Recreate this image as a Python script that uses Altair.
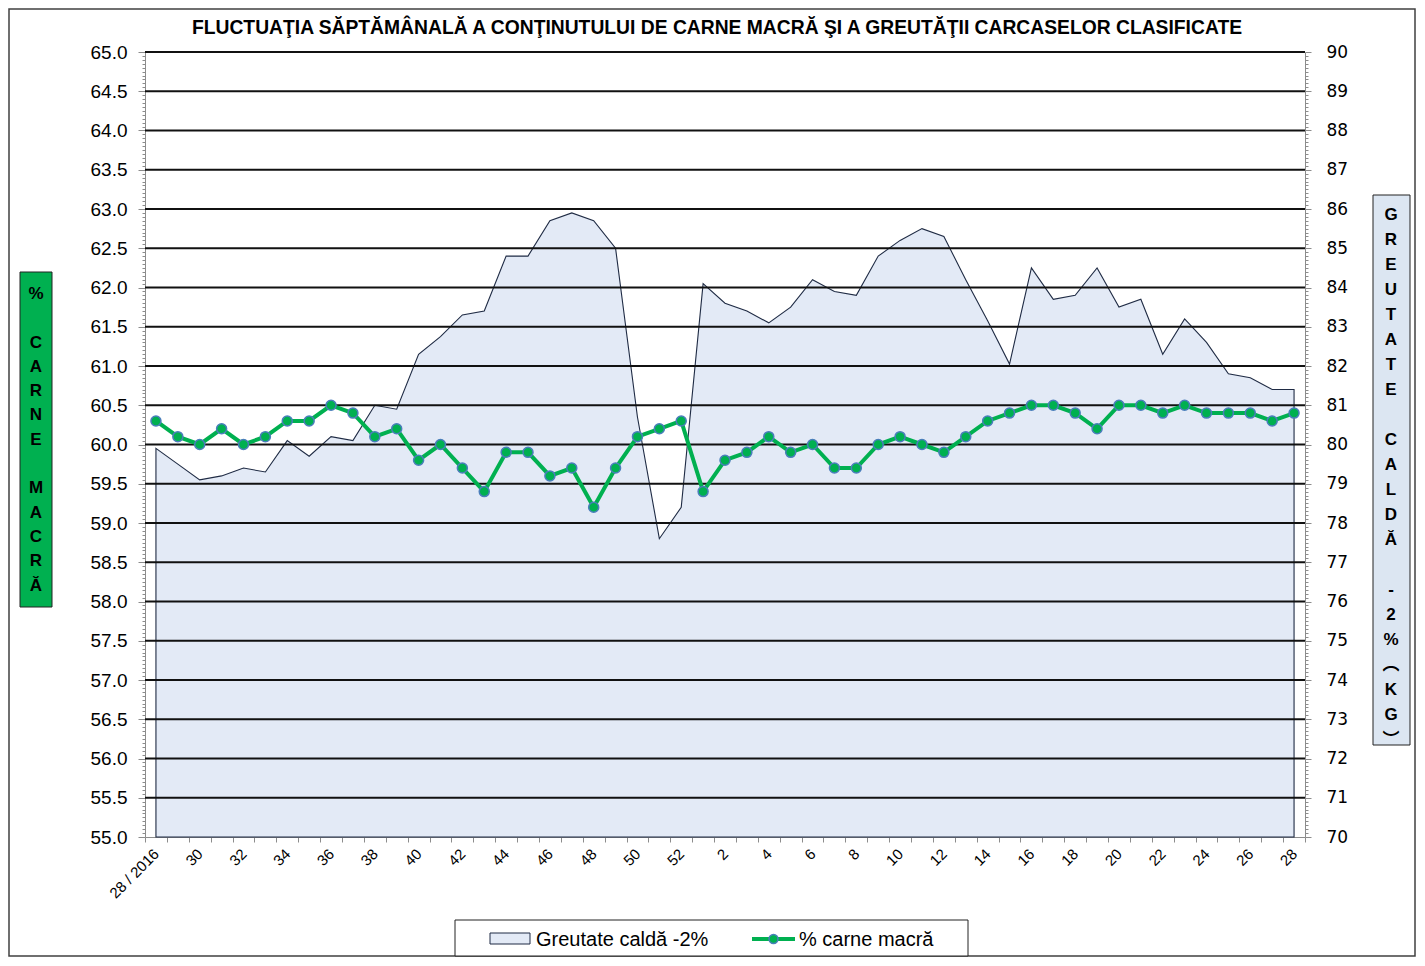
import json
import altair as alt
import pandas as pd

# ---------------- data ----------------
week_labels = ["28 / 2016"] + [str(w) for w in range(29, 53)] + [str(w) for w in range(1, 29)]

lean_meat = [60.3, 60.1, 60.0, 60.2, 60.0, 60.1, 60.3, 60.3, 60.5, 60.4,
             60.1, 60.2, 59.8, 60.0, 59.7, 59.4, 59.9, 59.9, 59.6, 59.7,
             59.2, 59.7, 60.1, 60.2, 60.3, 59.4, 59.8, 59.9, 60.1, 59.9,
             60.0, 59.7, 59.7, 60.0, 60.1, 60.0, 59.9, 60.1, 60.3, 60.4,
             60.5, 60.5, 60.4, 60.2, 60.5, 60.5, 60.4, 60.5, 60.4, 60.4,
             60.4, 60.3, 60.4]

carcass_weight = [79.9, 79.5, 79.1, 79.2, 79.4, 79.3, 80.1, 79.7, 80.2, 80.1,
                  81.0, 80.9, 82.3, 82.75, 83.3, 83.4, 84.8, 84.8, 85.7, 85.9,
                  85.7, 85.0, 80.7, 77.6, 78.4, 84.1, 83.6, 83.4, 83.1, 83.5,
                  84.2, 83.9, 83.8, 84.8, 85.2, 85.5, 85.3, 84.2, 83.15, 82.05,
                  84.5, 83.7, 83.8, 84.5, 83.5, 83.7, 82.3, 83.2, 82.6, 81.8,
                  81.7, 81.4, 81.4]

series_names = ["Greutate caldă -2%", "% carne macră"]
title_text = "FLUCTUAŢIA SĂPTĂMÂNALĂ  A CONŢINUTULUI DE CARNE MACRĂ ŞI A GREUTĂŢII CARCASELOR CLASIFICATE"
# stacked axis titles: (line index, letters) per word
left_title_words = [(0, "%"), (2, "CARNE"), (8, "MACRĂ")]
right_title_words = [(0, "GREUTATE"), (9, "CALDĂ"), (15, "-2%"), (18, "︵KG︶")]

left_domain = [55, 65]
right_domain = [70, 90]

df = pd.DataFrame({"idx": list(range(len(week_labels))), "week": week_labels,
                   "lean": lean_meat, "weight": carcass_weight})
grid_df = pd.DataFrame({"g": [55.5 + 0.5 * k for k in range(20)]})
one = pd.DataFrame({"a": [0]})

# ---------------- layout ----------------
W, H = 1160, 785
PAD = {"left": 137, "top": 44, "right": 111, "bottom": 120}
FONT = "Liberation Sans, Arial, sans-serif"
GRAY = "#8c8c8c"
GREEN = "#00B050"
AREA_FILL = "#E3EAF6"
AREA_LINE = "#1F2B44"
LEG_TOP = 868

x_vals = [k / 2 - 0.5 for k in range(2 * len(week_labels) + 1)]
x_label_expr = f"(datum.value % 2 === 0) ? {json.dumps(week_labels, ensure_ascii=False)}[datum.value] : ''"

x_enc = alt.X(
    "idx:Q",
    scale=alt.Scale(domain=[-0.5, len(week_labels) - 0.5], nice=False, zero=False),
    axis=alt.Axis(
        values=x_vals, labelExpr=x_label_expr, labelAngle=-45, labelAlign="right",
        labelBaseline="middle", labelFontSize=15, labelFont=FONT, labelColor="black",
        labelOverlap=False, labelFlush=False, labelPadding=9, tickSize=5,
        tickColor=GRAY, tickOpacity={"condition": {"test": "datum.value % 1 !== 0", "value": 1}, "value": 0},
        domainColor=GRAY, grid=False, title=None,
    ),
)

left_vals = [round(55 + 0.05 * k, 2) for k in range(201)]
left_axis = alt.Axis(
    orient="left", values=left_vals,
    labelExpr="round(datum.value*20) % 10 === 0 ? format(datum.value, '.1f') : ''",
    tickSize={"condition": {"test": "round(datum.value*20) % 10 === 0", "value": 7}, "value": 3},
    tickColor=GRAY, domainColor=GRAY, labelFontSize=19, labelFont=FONT, labelColor="black",
    labelPadding=11, labelOverlap=False, grid=False, title=None,
)
left_scale = alt.Scale(domain=left_domain, nice=False, zero=False)

right_vals = [round(70 + 0.1 * k, 1) for k in range(201)]
right_axis = alt.Axis(
    orient="right", values=right_vals,
    labelExpr="round(datum.value*10) % 10 === 0 ? format(datum.value, 'd') : ''",
    tickSize={"condition": {"test": "round(datum.value*10) % 10 === 0", "value": 6}, "value": 3},
    tickColor=GRAY, domainColor=GRAY, labelFontSize=17, labelFont="DejaVu Sans",
    labelColor="black", labelPadding=15, labelOverlap=False, grid=False, title=None,
)

# ---------------- layers ----------------
area = alt.Chart(df).mark_area(fill=AREA_FILL, stroke=AREA_LINE, strokeWidth=1.1, fillOpacity=1).encode(
    x=x_enc,
    y=alt.Y("weight:Q", scale=alt.Scale(domain=right_domain, nice=False, zero=False), axis=right_axis),
    y2=alt.datum(right_domain[0]),
)

grid = alt.Chart(grid_df).mark_rule(color="#111111", strokeWidth=2).encode(
    y=alt.Y("g:Q", scale=left_scale, axis=left_axis)
)
line = alt.Chart(df).mark_line(color=GREEN, strokeWidth=4).encode(
    x=x_enc, y=alt.Y("lean:Q", scale=left_scale, axis=left_axis)
)
points = alt.Chart(df).mark_circle(size=100, color=GREEN, stroke="#4A7EBB", strokeWidth=1.5, opacity=1).encode(
    x=x_enc, y=alt.Y("lean:Q", scale=left_scale, axis=left_axis)
)
inner = alt.layer(grid, line, points)

base = alt.Chart(one)

border = base.mark_rect(filled=False, stroke="#404040", strokeWidth=1.5).encode(
    x=alt.value(-PAD["left"] + 1), x2=alt.value(W + PAD["right"] - 1),
    y=alt.value(-PAD["top"] + 1), y2=alt.value(H + PAD["bottom"] - 1),
)

title = base.mark_text(align="center", baseline="middle", font=FONT, fontSize=19.3,
                       fontWeight="bold", color="black").encode(
    x=alt.value(572), y=alt.value(-24), text=alt.value(title_text)
)


def stacked(words, x, y0, lh, font):
    marks = []
    for start, word in words:
        marks.append(
            base.mark_text(align="center", baseline="alphabetic", lineBreak="\n", lineHeight=lh,
                           font=font, fontSize=17, fontWeight="bold", color="black").encode(
                x=alt.value(x), y=alt.value(y0 + start * lh), text=alt.value("\n".join(list(word)))
            )
        )
    return marks


left_box = base.mark_rect(fill=GREEN, stroke="#222222", strokeWidth=1).encode(
    x=alt.value(-125), x2=alt.value(-93), y=alt.value(220), y2=alt.value(555)
)
right_box = base.mark_rect(fill="#DCE6F2", stroke="#222222", strokeWidth=1).encode(
    x=alt.value(1228), x2=alt.value(1265), y=alt.value(143), y2=alt.value(693)
)
left_txt = stacked(left_title_words, -109, 247, 24.3, FONT)
right_txt = stacked(right_title_words, 1246, 168, 25, FONT + ", Noto Sans CJK SC")

# legend
leg_box = base.mark_rect(fill="white", stroke="#222222", strokeWidth=1).encode(
    x=alt.value(310), x2=alt.value(823), y=alt.value(LEG_TOP), y2=alt.value(LEG_TOP + 36)
)
leg_swatch = base.mark_rect(fill=AREA_FILL, stroke=AREA_LINE, strokeWidth=1).encode(
    x=alt.value(345), x2=alt.value(385), y=alt.value(LEG_TOP + 13), y2=alt.value(LEG_TOP + 24)
)
leg_t1 = base.mark_text(align="left", baseline="middle", font=FONT, fontSize=20, color="black").encode(
    x=alt.value(391), y=alt.value(LEG_TOP + 20), text=alt.value(series_names[0])
)
leg_line = base.mark_rule(color=GREEN, strokeWidth=4).encode(
    x=alt.value(607), x2=alt.value(650), y=alt.value(LEG_TOP + 19)
)
leg_dot = base.mark_circle(size=80, color=GREEN, stroke="#4A7EBB", strokeWidth=1.5, opacity=1).encode(
    x=alt.value(628.5), y=alt.value(LEG_TOP + 19)
)
leg_t2 = base.mark_text(align="left", baseline="middle", font=FONT, fontSize=20, color="black").encode(
    x=alt.value(654), y=alt.value(LEG_TOP + 20), text=alt.value(series_names[1])
)

chart = alt.layer(
    border, area, inner, title, left_box, right_box, *left_txt, *right_txt,
    leg_box, leg_swatch, leg_t1, leg_line, leg_dot, leg_t2,
).resolve_scale(y="independent").properties(
    width=W, height=H,
    autosize=alt.AutoSizeParams(type="none"),
    padding=PAD,
).configure_view(strokeWidth=0)

chart.save("out.html", embed_options={"renderer": "svg", "actions": False})
